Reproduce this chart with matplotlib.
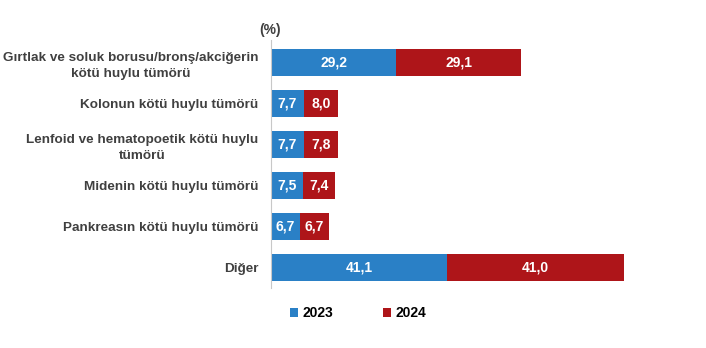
import matplotlib.pyplot as plt

categories = [
    'Gırtlak ve soluk borusu/bronş/akciğerin\nkötü huylu tümörü',
    'Kolonun kötü huylu tümörü',
    'Lenfoid ve hematopoetik kötü huylu\ntümörü',
    'Midenin kötü huylu tümörü',
    'Pankreasın kötü huylu tümörü',
    'Diğer',
]
values_2023 = [29.2, 7.7, 7.7, 7.5, 6.7, 41.1]
values_2024 = [29.1, 8.0, 7.8, 7.4, 6.7, 41.0]
labels_2023 = ['29,2', '7,7', '7,7', '7,5', '6,7', '41,1']
labels_2024 = ['29,1', '8,0', '7,8', '7,4', '6,7', '41,0']

blue = '#2A80C6'
red = '#AE1519'
text_gray = '#404040'

plt.rcParams['font.family'] = ['Liberation Sans', 'DejaVu Sans']

fig = plt.figure(figsize=(7.06, 3.48), dpi=100)
ax = fig.add_axes([271 / 706, 60 / 348, 435 / 706, 248 / 348])

y = range(len(categories))
b1 = ax.barh(y, values_2023, height=0.66, color=blue, label='2023')
b2 = ax.barh(y, values_2024, left=values_2023, height=0.66, color=red, label='2024')

# value labels inside each segment
for i in y:
    ax.text(values_2023[i] / 2, i, labels_2023[i], ha='center', va='center',
            color='white', fontsize=10, fontweight='bold')
    ax.text(values_2023[i] + values_2024[i] / 2, i, labels_2024[i], ha='center',
            va='center', color='white', fontsize=10, fontweight='bold')

ax.set_xlim(0, 101.3)
ax.set_ylim(5.49, -0.56)
ax.set_yticks(list(y))
ax.set_yticklabels(categories, fontsize=9.7, fontweight='bold', color=text_gray,
                   ha='right', multialignment='center', linespacing=1.35)
ax.tick_params(axis='y', length=0, pad=9)
ax.set_xticks([])
for side in ['top', 'right', 'bottom']:
    ax.spines[side].set_visible(False)
ax.spines['left'].set_color('#c8c8c8')

fig.text(270 / 706, 1 - 30 / 348, '(%)', ha='center', va='center',
         fontsize=10, fontweight='bold', color=text_gray)

fig.legend(handles=[b1, b2], loc='center', bbox_to_anchor=(358 / 706, 1 - 313 / 348),
           ncol=2, frameon=False, handlelength=0.6, handleheight=0.6,
           handletextpad=0.3, columnspacing=3.6,
           prop={'weight': 'bold', 'size': 10})

fig.savefig('out.png', dpi=100)
